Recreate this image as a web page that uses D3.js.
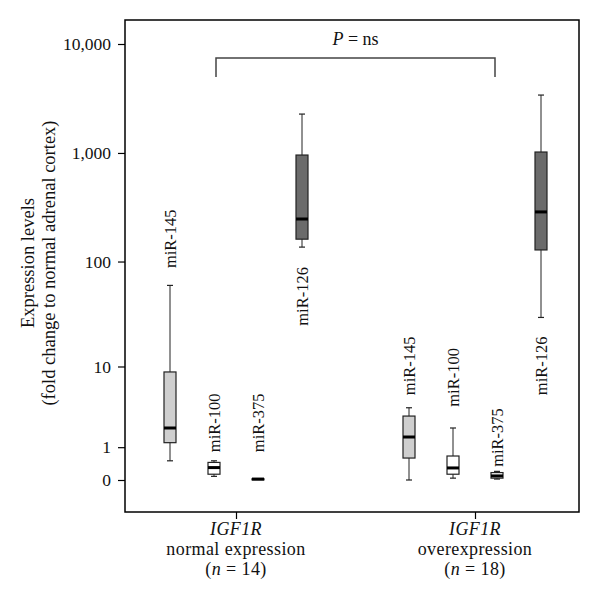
<!DOCTYPE html>
<html>
<head>
<meta charset="utf-8">
<script src="https://cdn.jsdelivr.net/npm/d3@7"></script>
<style>
  body { margin: 0; background: #fff; }
  text { font-family: "Liberation Serif", "DejaVu Serif", serif; }
</style>
</head>
<body>
<script>
var w = 600, h = 603;

// groups and miRNAs
var groups = ['normal', 'over'];
var groupLines = [['IGF1R', 'normal expression', '14'], ['IGF1R', 'overexpression', '18']];
var mirs = ['miR-145', 'miR-100', 'miR-375', 'miR-126'];
var mirFill = ['#cfcfcf', '#ffffff', '#ffffff', '#6b6b6b'];

// box stats per group, in mirs order: [min, q1, median, q3, max]
var normalStats = [
  [0.5, 1.2, 2.0, 8.8, 60],
  [0.08, 0.13, 0.3, 0.45, 0.5],
  [0.015, 0.015, 0.02, 0.025, 0.025],
  [136, 161, 247, 957, 2275]
];
var overStats = [
  [0, 0.59, 1.48, 2.86, 3.6],
  [0.04, 0.13, 0.29, 0.66, 2.0],
  [0.02, 0.04, 0.09, 0.17, 0.2],
  [30, 128, 287, 1020, 3400]
];
// value at which each label starts
var normalLabelAt = [87, 0.8, 0.8, 25];
var overLabelAt = [5.0, 3.7, 0.32, 5.0];

var yTicks = [0, 1, 10, 100, 1000, 10000];

var mLeft = 125, mRight = 579, mTop = 20, mBottom = 512;

var svg = d3.select('body')
  .append('svg')
  .attr('width', w)
  .attr('height', h);

var y = d3.scaleSymlog().constant(1)
  .domain([0, 10000])
  .range([480, 44]);

var xGroup = d3.scalePoint().domain(groups).range([236, 475]);
var xMir = d3.scalePoint().domain(mirs).range([-66, 66]);

// axes
svg.append('g')
  .attr('transform', 'translate(' + mLeft + ',0)')
  .call(d3.axisLeft(y).tickValues(yTicks).tickFormat(d3.format(',')).tickSize(7).tickPadding(7))
  .call(function(g) {
    g.select('.domain').remove();
    g.selectAll('line').attr('stroke', '#000').attr('stroke-width', 1.2);
    g.selectAll('text').attr('font-size', 17.5).attr('font-family', '"Liberation Serif", serif').attr('fill', '#111');
  });

svg.append('g')
  .attr('transform', 'translate(0,' + mBottom + ')')
  .call(d3.axisBottom(xGroup).tickSize(7).tickFormat(''))
  .call(function(g) {
    g.select('.domain').remove();
    g.selectAll('line').attr('stroke', '#000').attr('stroke-width', 1.2);
  });

// frame
svg.append('rect')
  .attr('x', mLeft).attr('y', mTop)
  .attr('width', mRight - mLeft).attr('height', mBottom - mTop)
  .attr('fill', 'none')
  .attr('stroke', '#000')
  .attr('stroke-width', 1.5);

// boxes
var allStats = [normalStats, overStats];
var allLabels = [normalLabelAt, overLabelAt];
var bw = 12;

groups.forEach(function(gName, gi) {
  var gx = xGroup(gName);
  mirs.forEach(function(m, mi) {
    var s = allStats[gi][mi];
    var cx = gx + xMir(m);
    var g = svg.append('g');
    // whiskers
    g.append('line')
      .attr('x1', cx).attr('x2', cx)
      .attr('y1', y(s[0])).attr('y2', y(s[4]))
      .attr('stroke', '#222').attr('stroke-width', 1);
    [s[0], s[4]].forEach(function(v) {
      g.append('line')
        .attr('x1', cx - 3).attr('x2', cx + 3)
        .attr('y1', y(v)).attr('y2', y(v))
        .attr('stroke', '#222').attr('stroke-width', 1.2);
    });
    // box
    g.append('rect')
      .attr('x', cx - bw / 2)
      .attr('y', y(s[3]))
      .attr('width', bw)
      .attr('height', Math.max(1, y(s[1]) - y(s[3])))
      .attr('fill', mirFill[mi])
      .attr('stroke', '#222')
      .attr('stroke-width', 1.2);
    // median
    g.append('line')
      .attr('x1', cx - bw / 2).attr('x2', cx + bw / 2)
      .attr('y1', y(s[2])).attr('y2', y(s[2]))
      .attr('stroke', '#000').attr('stroke-width', 3);
    // label
    g.append('text')
      .attr('transform', 'translate(' + cx + ',' + y(allLabels[gi][mi]) + ') rotate(-90)')
      .attr('dy', '0.35em')
      .attr('font-size', 16.5)
      .attr('fill', '#111')
      .text(m);
  });

  // group labels
  var lab = svg.append('text')
    .attr('text-anchor', 'middle')
    .attr('font-size', 18)
    .attr('letter-spacing', 0.4)
    .attr('fill', '#111');
  lab.append('tspan').attr('x', gx).attr('y', 535).attr('font-style', 'italic').text(groupLines[gi][0]);
  lab.append('tspan').attr('x', gx).attr('y', 555).text(groupLines[gi][1]);
  lab.append('tspan').attr('x', gx).attr('y', 575).text('(');
  lab.append('tspan').attr('font-style', 'italic').text('n');
  lab.append('tspan').text(' = ' + groupLines[gi][2] + ')');
});

// significance bracket
var bx1 = xGroup('normal') - 20, bx2 = xGroup('over') + 20;
svg.append('path')
  .attr('d', 'M' + bx1 + ',77V58H' + bx2 + 'V77')
  .attr('fill', 'none')
  .attr('stroke', '#444')
  .attr('stroke-width', 1.5);

var pt = svg.append('text')
  .attr('x', (bx1 + bx2) / 2)
  .attr('y', 45)
  .attr('text-anchor', 'middle')
  .attr('font-size', 18)
  .attr('fill', '#111');
pt.append('tspan').attr('font-style', 'italic').text('P');
pt.append('tspan').text(' = ns');

// y title
var yt = svg.append('text')
  .attr('transform', 'translate(0,263) rotate(-90)')
  .attr('text-anchor', 'middle')
  .attr('font-size', 18.5)
  .attr('fill', '#111');
yt.append('tspan').attr('x', 0).attr('y', 34).text('Expression levels');
yt.append('tspan').attr('x', 0).attr('y', 55).text('(fold change to normal adrenal cortex)');
</script>
</body>
</html>
